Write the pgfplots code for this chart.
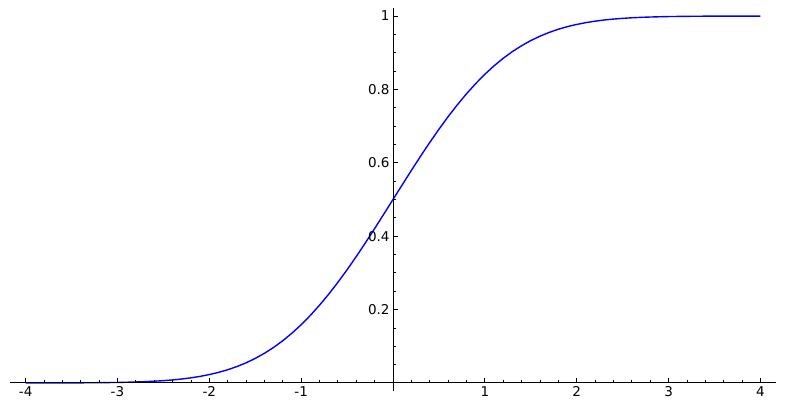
\documentclass[border=0pt]{standalone}
\usepackage{fontspec}
\setmainfont{DejaVu Sans}
\usepackage{pgfplots}
\pgfplotsset{compat=1.18}
\begin{document}
\begin{tikzpicture}
\begin{axis}[
    scale only axis,
    width=766pt, height=383pt,
    axis lines=middle,
    axis on top,
    axis line style={-, line width=1pt},
    xmin=-4.17, xmax=4.17,
    ymin=-0.022, ymax=1.022,
    xtick={-4,-3,-2,-1,1,2,3,4},
    ytick={0.2,0.4,0.6,0.8,1},
    minor xtick={-3.8,-3.6,...,3.8},
    minor ytick={0.05,0.1,...,1},
    tick align=inside,
    major tick length=5pt,
    minor tick length=2.5pt,
    every tick/.style={black, line width=0.8pt},
    tick label style={font=\fontsize{13.5}{15}\selectfont},
    /pgf/number format/assume math mode=true,
    clip=false,
]
\addplot[blue, line width=1.4pt] coordinates {
    (-4.0,0.0000) (-3.9,0.0000) (-3.8,0.0001) (-3.7,0.0001) (-3.6,0.0002)
    (-3.5,0.0002) (-3.4,0.0003) (-3.3,0.0005) (-3.2,0.0007) (-3.1,0.0010)
    (-3.0,0.0013) (-2.9,0.0019) (-2.8,0.0026) (-2.7,0.0035) (-2.6,0.0047)
    (-2.5,0.0062) (-2.4,0.0082) (-2.3,0.0107) (-2.2,0.0139) (-2.1,0.0179)
    (-2.0,0.0228) (-1.9,0.0287) (-1.8,0.0359) (-1.7,0.0446) (-1.6,0.0548)
    (-1.5,0.0668) (-1.4,0.0808) (-1.3,0.0968) (-1.2,0.1151) (-1.1,0.1357)
    (-1.0,0.1587) (-0.9,0.1841) (-0.8,0.2119) (-0.7,0.2420) (-0.6,0.2743)
    (-0.5,0.3085) (-0.4,0.3446) (-0.3,0.3821) (-0.2,0.4207) (-0.1,0.4602)
    (0.0,0.5000)
    (0.1,0.5398) (0.2,0.5793) (0.3,0.6179) (0.4,0.6554) (0.5,0.6915)
    (0.6,0.7257) (0.7,0.7580) (0.8,0.7881) (0.9,0.8159) (1.0,0.8413)
    (1.1,0.8643) (1.2,0.8849) (1.3,0.9032) (1.4,0.9192) (1.5,0.9332)
    (1.6,0.9452) (1.7,0.9554) (1.8,0.9641) (1.9,0.9713) (2.0,0.9772)
    (2.1,0.9821) (2.2,0.9861) (2.3,0.9893) (2.4,0.9918) (2.5,0.9938)
    (2.6,0.9953) (2.7,0.9965) (2.8,0.9974) (2.9,0.9981) (3.0,0.9987)
    (3.1,0.9990) (3.2,0.9993) (3.3,0.9995) (3.4,0.9997) (3.5,0.9998)
    (3.6,0.9998) (3.7,0.9999) (3.8,0.9999) (3.9,1.0000) (4.0,1.0000)
};
\end{axis}
\path ([shift={(-10pt,-22pt)}]current axis.south west)
      ([shift={(9pt,8pt)}]current axis.north east);
\end{tikzpicture}
\end{document}
